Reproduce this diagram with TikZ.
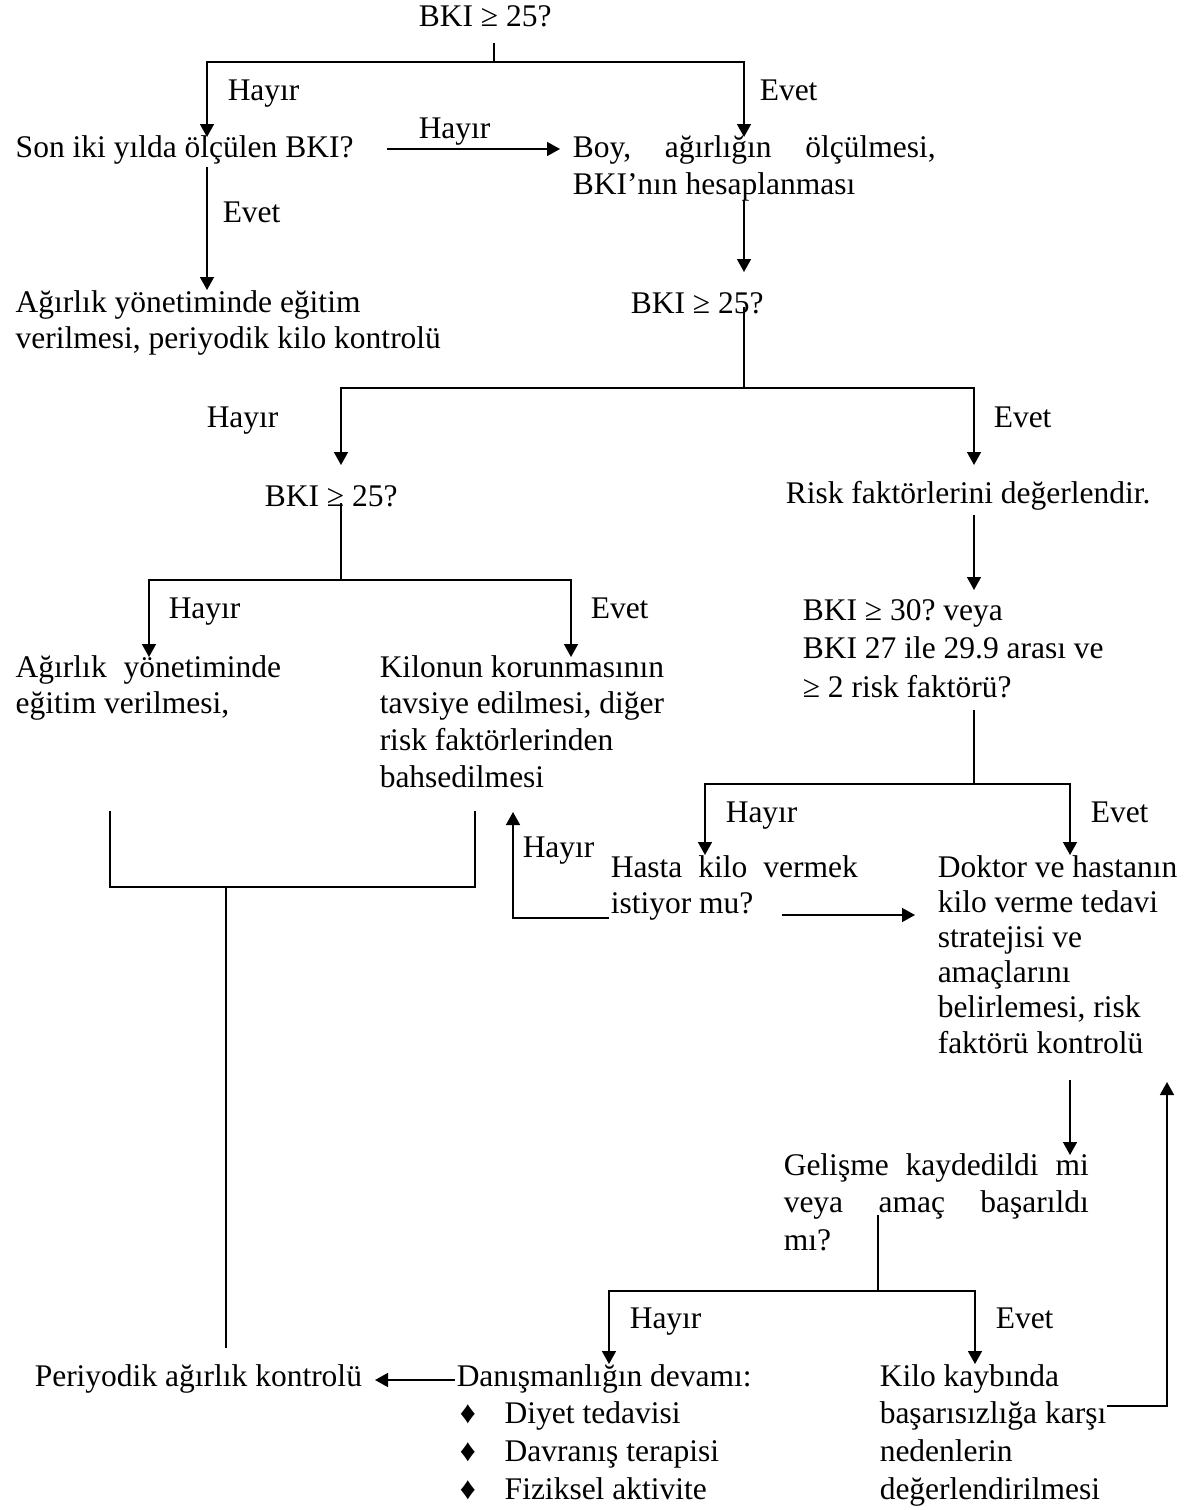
\documentclass[tikz,border=0pt]{standalone}
\usepackage{fontspec}
\setmainfont{Liberation Serif}
\usetikzlibrary{arrows.meta}
\newcommand{\madde}{\makebox[48pt][l]{\hspace{3pt}♦}}

\begin{document}
\frenchspacing
\begin{tikzpicture}[x=1pt,y=-1pt,line width=1.5pt,
  every node/.style={inner sep=0pt,anchor=base west,font=\fontsize{31.5}{37}\selectfont},
  ok/.style={-{Triangle[length=13pt,width=14pt]}},
  kutu/.style={align=flush left,text width=#1},
  aralik/.style={font=\fontsize{31.5}{#1}\selectfont}]
\useasboundingbox (0,0) rectangle (1191,1510);

% kutular
\node (soru1) at (418,26) {BKI ≥ 25?};
\node (son) at (15,157) {Son iki yılda ölçülen BKI?};
\node[kutu=363pt] (boy) at (572,157) {Boy,\hfill ağırlığın\hfill ölçülmesi,\\BKI’nın hesaplanması};
\node[kutu=440pt,aralik=36] (egitim1) at (15,312) {Ağırlık yönetiminde eğitim\\verilmesi, periyodik kilo kontrolü};
\node (soru2) at (630,313) {BKI ≥ 25?};
\node (soru3) at (264,506) {BKI ≥ 25?};
\node (risk) at (785,503) {Risk faktörlerini değerlendir.};
\node[kutu=300pt,aralik=36] (egitim2) at (15,677) {Ağırlık\hspace{17pt}yönetiminde\\eğitim verilmesi,};
\node[kutu=300pt,aralik=36.7] (koru) at (379,677) {Kilonun korunmasının\\tavsiye edilmesi, diğer\\risk faktörlerinden\\bahsedilmesi};
\node[kutu=320pt,aralik=38.5] (soru4) at (802,620) {BKI ≥ 30? veya\\BKI 27 ile 29.9 arası ve\\≥ 2 risk faktörü?};
\node[kutu=247pt,aralik=36] (hasta) at (610,877) {Hasta\hfill kilo\hfill vermek\\istiyor mu?};
\node[kutu=250pt,aralik=35.2] (doktor) at (937,877) {Doktor ve hastanın\\kilo verme tedavi\\stratejisi ve\\amaçlarını\\belirlemesi, risk\\faktörü kontrolü};
\node[kutu=305pt,aralik=37.5] (gelisme) at (783,1175) {Gelişme\hfill kaydedildi\hfill mi\\veya\hfill amaç\hfill başarıldı\\mı?};
\node (periyot) at (34,1386) {Periyodik ağırlık kontrolü};
\node[kutu=320pt,aralik=37.7] (danisma) at (456,1386) {Danışmanlığın devamı:\\\madde Diyet tedavisi\\\madde Davranış terapisi\\\madde Fiziksel aktivite};
\node[kutu=240pt,aralik=37.7] (kayip) at (879,1386) {Kilo kaybında\\başarısızlığa karşı\\nedenlerin\\değerlendirilmesi};

% etiketler
\node (hayir1) at (227,100) {Hayır};
\node (evet1) at (759,100) {Evet};
\node (hayir2) at (418,138) {Hayır};
\node (evet2) at (222,222) {Evet};
\node (hayir3) at (206,427) {Hayır};
\node (evet3) at (993,427) {Evet};
\node (hayir4) at (168,618) {Hayır};
\node (evet4) at (590,618) {Evet};
\node (hayir5) at (725,822) {Hayır};
\node (evet5) at (1090,822) {Evet};
\node (hayir6) at (522,857) {Hayır};
\node (hayir7) at (629,1328) {Hayır};
\node (evet7) at (995,1328) {Evet};

% ilk dallanma
\coordinate (a0) at (494,43);
\coordinate (a1) at (494,62);
\coordinate (a2) at (207,137);
\coordinate (a3) at (744,137);
\draw (a0) -- (a1);
\draw[ok] (a1) -| (a2);
\draw[ok] (a1) -| (a3);

\coordinate (b0) at (387,149);
\coordinate (b1) at (560,149);
\coordinate (b2) at (207,167);
\coordinate (b3) at (207,290);
\draw[ok] (b0) -- (b1);
\draw[ok] (b2) -- (b3);

% ikinci dallanma
\coordinate (c0) at (744,200);
\coordinate (c1) at (744,272);
\coordinate (c2) at (744,307);
\coordinate (c3) at (744,388);
\coordinate (c4) at (341,465);
\coordinate (c5) at (974,465);
\draw[ok] (c0) -- (c1);
\draw (c2) -- (c3);
\draw[ok] (c3) -| (c4);
\draw[ok] (c3) -| (c5);

% sol alt dallanma
\coordinate (e0) at (341,503);
\coordinate (e1) at (341,580);
\coordinate (e2) at (149,657);
\coordinate (e3) at (571,657);
\draw (e0) -- (e1);
\draw[ok] (e1) -| (e2);
\draw[ok] (e1) -| (e3);

% risk
\coordinate (f0) at (974,515);
\coordinate (f1) at (974,590);
\draw[ok] (f0) -- (f1);
\coordinate (g0) at (974,710);
\coordinate (g1) at (974,784);
\coordinate (g2) at (705,855);
\coordinate (g3) at (1070,855);
\draw (g0) -- (g1);
\draw[ok] (g1) -| (g2);
\draw[ok] (g1) -| (g3);

% birlesme
\coordinate (k0) at (110,811);
\coordinate (k1) at (110,887);
\coordinate (k2) at (475,887);
\coordinate (k3) at (475,811);
\coordinate (k4) at (226,887);
\coordinate (k5) at (226,1348);
\draw (k0) -- (k1) -- (k2) -- (k3);
\draw (k4) -- (k5);

\coordinate (m0) at (609,918);
\coordinate (m1) at (513,918);
\coordinate (m2) at (513,812);
\draw[ok] (m0) -- (m1) -- (m2);
\coordinate (n0) at (782,915);
\coordinate (n1) at (915,915);
\draw[ok] (n0) -- (n1);

% alt kisim
\coordinate (p0) at (1070,1080);
\coordinate (p1) at (1070,1155);
\draw[ok] (p0) -- (p1);
\coordinate (r0) at (878,1215);
\coordinate (r1) at (878,1291);
\coordinate (r2) at (609,1364);
\coordinate (r3) at (975,1364);
\draw (r0) -- (r1);
\draw[ok] (r1) -| (r2);
\draw[ok] (r1) -| (r3);
\coordinate (t0) at (455,1380);
\coordinate (t1) at (375,1380);
\draw[ok] (t0) -- (t1);
\coordinate (u0) at (1107,1406);
\coordinate (u1) at (1167,1406);
\coordinate (u2) at (1167,1082);
\draw[ok] (u0) -- (u1) -- (u2);
\end{tikzpicture}
\end{document}
